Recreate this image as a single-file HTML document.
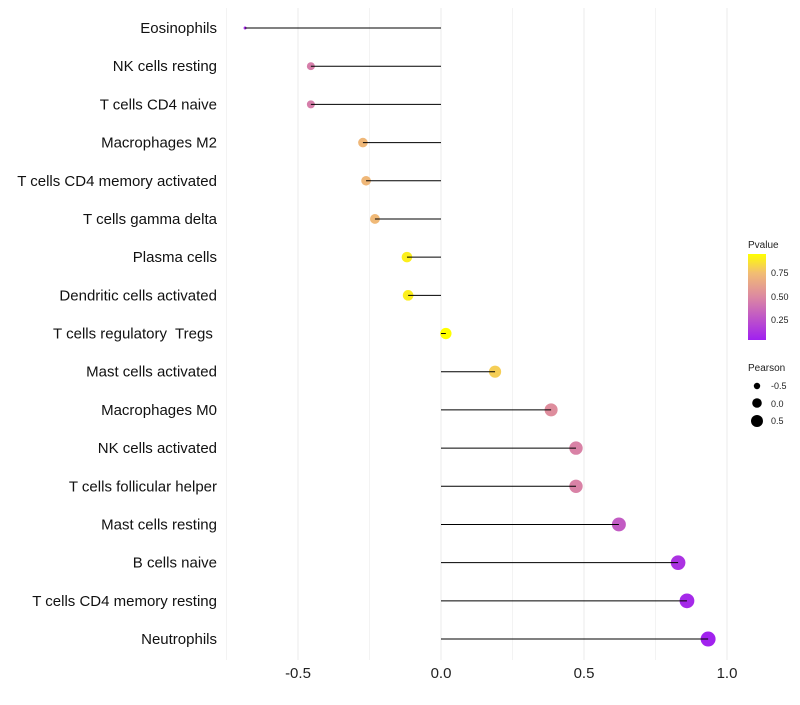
<!DOCTYPE html>
<html><head><meta charset="utf-8"><style>
body{margin:0;background:#fff;font-family:"Liberation Sans",sans-serif}
text{white-space:pre}
</style></head><body>
<svg id="chart" width="800" height="700" xmlns="http://www.w3.org/2000/svg">
<defs><linearGradient id="pg" x1="0" y1="1" x2="0" y2="0">
<stop offset="0" stop-color="#a020f0"/><stop offset="0.5" stop-color="#dc88a2"/><stop offset="0.78" stop-color="#f2bd73"/><stop offset="1" stop-color="#ffff00"/></linearGradient></defs>
<g id="grid"></g><g id="marks"></g><g id="labels"></g>
<g font-size="9" fill="#222">
<text x="748" y="248" font-size="10">Pvalue</text>
<rect x="748" y="254" width="18" height="86" fill="url(#pg)"/>
<text x="771" y="276">0.75</text><text x="771" y="300">0.50</text><text x="771" y="323">0.25</text>
<text x="748" y="371" font-size="10">Pearson</text>
<circle cx="757" cy="386" r="3.2" fill="#000"/><text x="771" y="389">-0.5</text>
<circle cx="757" cy="403" r="4.8" fill="#000"/><text x="771" y="407">0.0</text>
<circle cx="757" cy="421" r="6" fill="#000"/><text x="771" y="424">0.5</text>
</g>
</svg>
<script>
const categories=["Eosinophils","NK cells resting","T cells CD4 naive","Macrophages M2","T cells CD4 memory activated","T cells gamma delta","Plasma cells","Dendritic cells activated","T cells regulatory  Tregs ","Mast cells activated","Macrophages M0","NK cells activated","T cells follicular helper","Mast cells resting","B cells naive","T cells CD4 memory resting","Neutrophils"];
const pearson=[-0.685,-0.455,-0.455,-0.273,-0.262,-0.231,-0.119,-0.115,0.017,0.189,0.385,0.472,0.472,0.622,0.829,0.860,0.934];
const pvalues=[0.08,0.45,0.45,0.72,0.72,0.73,0.9,0.9,0.98,0.8,0.52,0.47,0.47,0.3,0.12,0.08,0.05];
const xTicks=[-0.5,0,0.5,1];
const xTickLabels=["-0.5","0.0","0.5","1.0"];
const NS="http://www.w3.org/2000/svg";
const xs=v=>441+v*286;
const ys=i=>28+i*38.19;
const rs=v=>Math.sqrt(2.25+53.75*Math.pow(Math.max(0,(v+0.685)/1.619),0.7));
function lerp(a,b,t){return a.map((x,k)=>Math.round(x+(b[k]-x)*t));}
const stops=[[0,[160,32,240]],[0.5,[220,136,162]],[0.78,[242,189,115]],[1,[255,255,0]]];
function col(p){let t=Math.min(1,Math.max(0,(p-0.04)/0.91));for(let k=1;k<stops.length;k++){if(t<=stops[k][0]){const [a,ca]=stops[k-1],[b,cb]=stops[k];const c=lerp(ca,cb,(t-a)/(b-a));return `rgb(${c})`;}}return "rgb(255,255,0)";}
function mk(tag,at,parent){const e=document.createElementNS(NS,tag);for(const k in at)e.setAttribute(k,at[k]);document.getElementById(parent).appendChild(e);return e;}
[-0.75,-0.5,-0.25,0,0.25,0.5,0.75,1].forEach(v=>{const l=mk("line",{x1:xs(v),x2:xs(v),y1:8,y2:660,stroke:"#ebebeb","stroke-width":v*4%2==0?1:0.6},"grid");

});
xTicks.forEach((v,i)=>{const t=mk("text",{x:xs(v),y:678,"text-anchor":"middle","font-size":15,fill:"#222"},"labels");t.textContent=xTickLabels[i];

});
categories.forEach((c,i)=>{const y=ys(i);
const t=mk("text",{x:217,y:y+5,"text-anchor":"end","font-size":15,fill:"#111"},"labels");t.textContent=c;


const p=mk("circle",{cx:xs(pearson[i]),cy:y,r:rs(pearson[i]),fill:col(pvalues[i])},"marks");


const s=mk("line",{x1:xs(0),x2:xs(pearson[i]),y1:y,y2:y,stroke:"#000","stroke-width":1},"marks");

});
</script>
</body></html>
